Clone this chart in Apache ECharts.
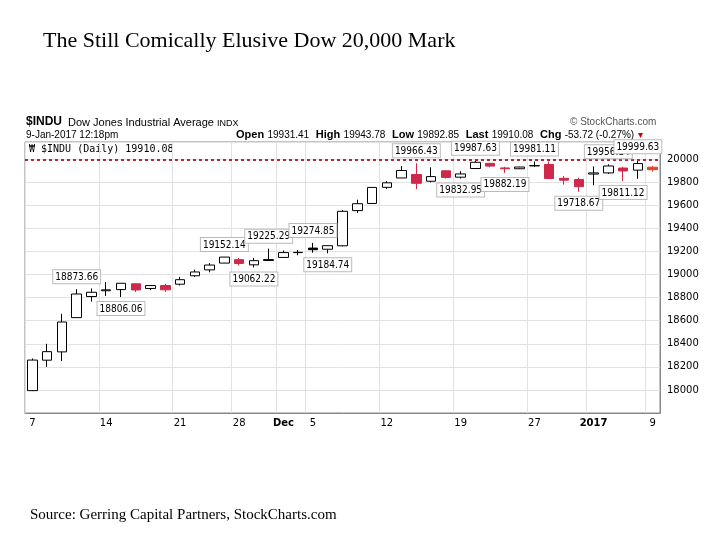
<!DOCTYPE html><html><head><meta charset="utf-8"><script src="https://cdn.jsdelivr.net/npm/echarts@6/dist/echarts.min.js"></script></head><body style="margin:0;background:#fff"><div id="c" style="width:720px;height:540px"></div><script>
const dates=['11-07','11-08','11-09','11-10','11-11','11-14','11-15','11-16','11-17','11-18','11-21','11-22','11-23','11-25','11-28','11-29','11-30','12-01','12-02','12-05','12-06','12-07','12-08','12-09','12-12','12-13','12-14','12-15','12-16','12-19','12-20','12-21','12-22','12-23','12-27','12-28','12-29','12-30','01-03','01-04','01-05','01-06','01-09'];
const opens=[17994,18258,18330,18627,18810,18860,18870,18920,18880,18905,18917,18990,19041,19100,19130,19085,19130,19149,19193,19230,19220,19250,19555,19617,19757,19838,19868,19810,19900,19845,19920,19965,19925,19918,19943,19955,19835,19825,19872,19882,19924,19906,19931.41];
const closes=[18259,18332,18589,18832,18847,18868,18925,18867,18905,18868,18956,19023,19083,19152,19097,19121,19123,19191,19191,19216,19251,19549,19615,19756,19796,19903,19792,19850,19843,19873,19974,19941,19918,19933,19945,19833,19819,19763,19882,19942,19899,19963,19910.08];
const highs=[18273,18400,18660,18873.66,18880,18935,18925,18926,18910,18920,18980,19043,19100,19152.14,19145,19145,19225.29,19209,19213,19274.85,19251,19560,19650,19757,19810,19941,19966.43,19930,19905,19897,19987.63,19965,19935,19936,19981.11,19981,19855,19840,19938,19956.14,19935,19999.63,19943.78];
const lows=[17990,18200,18250,18627,18766,18815,18806.06,18850,18865,18850,18906,18980,19020,19100,19080,19062.22,19120,19149,19168,19190,19184.74,19245,19535,19614,19742,19838,19742,19800,19833,19832.95,19920,19930,19882.19,19915,19935,19830,19780,19718.67,19775,19873,19811.12,19830,19892.85];
const tickLabels={'11-07':'7','11-14':'14','11-21':'21','11-28':'28','12-01':'Dec','12-05':'5','12-12':'12','12-19':'19','12-27':'27','01-03':'2017','01-09':'9'};
const highNotes=['11-10','11-25','11-30','12-05','12-14','12-20','12-27','01-04','01-06'];
const lowNotes=['11-15','11-29','12-06','12-19','12-22','12-30','01-05'];
const RED='#d0284a',BLK='#000';
const data=dates.map((d,i)=>{
  const prev=i?closes[i-1]:opens[i];
  let c=closes[i]>=prev?BLK:RED;
  if(i===42)c='#e0462a';
  const fill=closes[i]>opens[i]?'#fff':c;
  return {value:[opens[i],closes[i],lows[i],highs[i]],itemStyle:{color:fill,color0:fill,borderColor:c,borderColor0:c}};
});
const noteStyle={show:true,fontSize:10,fontFamily:'DejaVu Sans Condensed',color:'#000',backgroundColor:'#fff',borderColor:'#bbb',borderWidth:1,padding:[2,2,1,2]};
const mp=[];
highNotes.forEach(d=>{const i=dates.indexOf(d);mp.push({coord:[d,highs[i]],value:highs[i].toFixed(2),label:Object.assign({},noteStyle,{position:'top',distance:6,formatter:highs[i].toFixed(2)})});});
lowNotes.forEach(d=>{const i=dates.indexOf(d);mp.push({coord:[d,lows[i]],value:lows[i].toFixed(2),label:Object.assign({},noteStyle,{position:'bottom',distance:5,formatter:lows[i].toFixed(2)})});});
const ch=echarts.init(document.getElementById('c'));
const isTick=(i,v)=>tickLabels[dates[i]]!==undefined;
ch.setOption({
 animation:false,
 grid:{left:25,right:60,top:142,height:271},
 xAxis:{type:'category',data:dates,boundaryGap:true,axisLine:{lineStyle:{color:'#888'}},axisTick:{show:false},
  axisLabel:{interval:isTick,formatter:v=>{const t=tickLabels[v];return (t==='Dec'||t==='2017')?'{b|'+t+'}':t;},fontSize:10,color:'#000',fontFamily:'DejaVu Sans',margin:5,rich:{b:{fontWeight:'bold',fontSize:10,fontFamily:'DejaVu Sans'}}},
  splitLine:{show:true,interval:isTick,lineStyle:{color:'#e2e2e2'}}},
 yAxis:{type:'value',position:'right',min:17800,max:20150,interval:200,
  axisLabel:{fontSize:10,color:'#000',fontFamily:'DejaVu Sans',margin:7,formatter:v=>(v<18000||v>20000)?'':v},
  axisLine:{show:true,lineStyle:{color:'#888'}},axisTick:{show:false},splitLine:{lineStyle:{color:'#e2e2e2'}}},
 series:[{type:'candlestick',data:data,barWidth:10,
  markPoint:{symbol:'circle',symbolSize:0,data:mp},
  markLine:{symbol:'none',silent:true,data:[
   {yAxis:20000,lineStyle:{color:'#b0283c',type:[3,3],width:2},label:{show:false}},
   {yAxis:19910.08,lineStyle:{opacity:0},label:{position:'end',formatter:'19910.08',fontWeight:'bold',fontSize:10,color:'#000',backgroundColor:'#fff',borderColor:'#000',borderWidth:1,padding:[1,2],distance:2}}
  ]}}],
 graphic:[
  {type:'text',left:43,top:30,style:{text:'The Still Comically Elusive Dow 20,000 Mark',font:'22px "Liberation Serif"',fill:'#000'}},
  {type:'text',left:26,top:116,style:{text:'$INDU',font:'bold 12px "Liberation Sans"',fill:'#000'}},
  {type:'text',left:68,top:117,style:{text:'Dow Jones Industrial Average',font:'11px "Liberation Sans"',fill:'#000'}},
  {type:'text',left:217,top:119,style:{text:'INDX',font:'9px "Liberation Sans"',fill:'#000'}},
  {type:'text',left:570,top:117,style:{text:'© StockCharts.com',font:'10px "Liberation Sans"',fill:'#555'}},
  {type:'text',left:26,top:130,style:{text:'9-Jan-2017 12:18pm',font:'10px "Liberation Sans"',fill:'#000'}},
  {type:'text',left:236,top:129,style:{rich:{b:{font:'bold 11px "Liberation Sans"',fill:'#000'},n:{font:'10px "Liberation Sans"',fill:'#000'},r:{font:'10px "Liberation Sans"',fill:'#c00'}},text:'{b|Open} {n|19931.41}  {b|High} {n|19943.78}  {b|Low} {n|19892.85}  {b|Last} {n|19910.08}  {b|Chg} {n|-53.72 (-0.27%)} {r|▾}'}},
  {type:'rect',shape:{x:25,y:142,width:635,height:271},style:{fill:'none',stroke:'#888'}},
  {type:'text',left:29,top:144,style:{text:'₩ $INDU (Daily) 19910.08',font:'10px "DejaVu Sans Mono"',fill:'#000'}},
  {type:'text',left:30,top:508,style:{text:'Source: Gerring Capital Partners, StockCharts.com',font:'15px "Liberation Serif"',fill:'#000'}}
 ]
});
</script></body></html>
